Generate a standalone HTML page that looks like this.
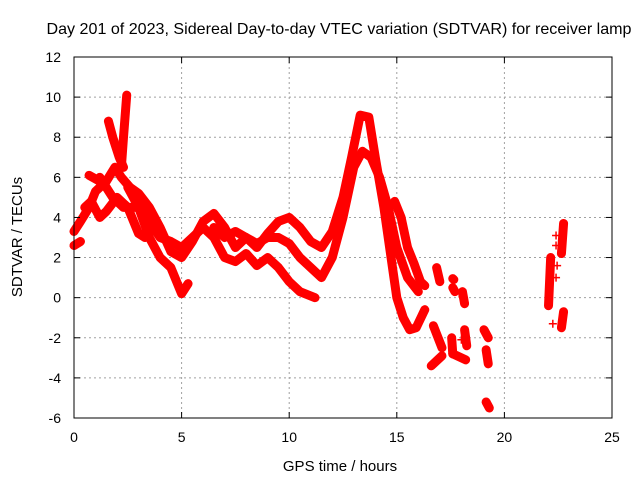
<!DOCTYPE html>
<html><head><meta charset="utf-8"><style>
body{margin:0;background:#fff;}
svg{display:block;font-family:"Liberation Sans",sans-serif;}
</style></head><body>
<svg id="chart" width="640" height="480" viewBox="0 0 640 480">
<text x="339" y="34" font-size="16" text-anchor="middle" textLength="585" lengthAdjust="spacingAndGlyphs">Day 201 of 2023, Sidereal Day-to-day VTEC variation (SDTVAR) for receiver lamp</text>
<text x="0" y="0" font-size="15" text-anchor="middle" transform="translate(22,237) rotate(-90)">SDTVAR / TECUs</text>
<text x="340" y="471" font-size="15" text-anchor="middle">GPS time / hours</text>
<g id="grid"></g><g id="marks"></g><g id="axes"></g>
</svg>
<script>
const xTicks=[0,5,10,15,20,25];
const yTicks=[-6,-4,-2,0,2,4,6,8,10,12];
const track1=[[0,3.3],[0.3,3.8],[0.7,4.5],[1,5.3],[1.5,5.8],[1.9,6.5],[2.2,6],[2.6,5.5],[3,5.2],[3.5,4.5],[4,3.5],[4.5,2.3],[5,2],[5.5,2.8],[6,3.8],[6.5,4.2],[7,3.5],[7.5,2.5],[8,3],[8.5,2.5],[9,3.2],[9.5,3.8],[10,4],[10.5,3.5],[11,2.8],[11.5,2.5],[12,3.3],[12.5,5],[12.9,7],[13.3,9.1],[13.7,9],[14,7],[14.4,4.5],[14.8,1.5],[15,0],[15.3,-1],[15.6,-1.6],[15.9,-1.5],[16.3,-0.6]];
const track2=[[0.5,4.5],[0.8,4.8],[1.2,4],[1.5,4.3],[2,5],[2.5,4.5],[3,3.2],[3.3,3]];
const track3=[[1.2,6],[1.8,5],[2.3,4.5],[3,4.5],[3.5,3],[4,2],[4.5,1.5],[5,0.2],[5.3,0.7]];
const track4=[[2.5,5.5],[3,4.5],[3.5,3.8],[4,3],[4.5,2.8],[5,2.5],[5.5,3],[6,3.5],[6.5,3],[7,2],[7.5,1.8],[8,2.2],[8.5,1.6],[9,2],[9.5,1.5],[10,0.8],[10.5,0.3],[11.2,0]];
const track5=[[6.5,3.5],[7,3],[7.5,3.3],[8,3],[8.5,2.7],[9,3],[9.5,3],[10,2.7],[10.5,2],[11,1.5],[11.5,1],[12,2],[12.5,4],[13,6.5],[13.4,7.3],[13.8,7],[14.2,6],[14.6,4.5],[15,2.5],[15.5,1],[16,0.3]];
const track6=[[14.9,4.8],[15.2,4],[15.5,2.5],[15.8,1.7],[16.1,0.8],[16.3,0.6]];
const spike1=[[1.6,8.8],[1.8,8],[2.1,7],[2.3,6.5]];
const spike2=[[2.2,6.5],[2.3,8],[2.45,10.1]];
const start1=[[0,2.6],[0.3,2.8]];
const start2=[[0.7,6.1],[1.2,5.8],[1.5,5.5]];
const frag1=[[16.85,1.5],[17.0,0.8]];
const frag2=[[17.6,0.95],[17.65,0.9]];
const frag3=[[17.6,0.5],[17.7,0.3]];
const frag4=[[18.05,0.3],[18.15,-0.3]];
const frag5=[[16.7,-1.4],[17.1,-2.5]];
const frag6=[[17.55,-2],[17.6,-2.8]];
const frag7=[[18.15,-1.6],[18.25,-2.4]];
const frag8=[[16.6,-3.4],[17.1,-2.9]];
const frag9=[[17.6,-2.8],[18.2,-3.1]];
const frag10=[[19.05,-1.6],[19.25,-2]];
const frag11=[[19.15,-2.6],[19.25,-3.3]];
const frag12=[[19.15,-5.2],[19.3,-5.5]];
const frag13=[[22.15,2],[22.05,-0.4]];
const frag14=[[22.75,3.7],[22.65,2.2]];
const frag15=[[22.75,-0.7],[22.65,-1.5]];
const singles=[[22.4,3.1],[22.4,2.6],[22.45,1.6],[22.4,1.0],[22.25,-1.3],[18.0,-2.1],[17.9,0.2]];
const allTracks=[track1,track2,track3,track4,track5,track6,spike1,spike2,start1,start2,frag1,frag2,frag3,frag4,frag5,frag6,frag7,frag8,frag9,frag10,frag11,frag12,frag13,frag14,frag15];
const L=74,R=612,T=57,B=418,X0=0,X1=25,Y0=-6,Y1=12;
const NS='http://www.w3.org/2000/svg';
const xs=h=>L+(h-X0)/(X1-X0)*(R-L);
const ys=v=>B-(v-Y0)/(Y1-Y0)*(B-T);
function mk(tag,attrs,parent){const e=document.createElementNS(NS,tag);for(const k in attrs)e.setAttribute(k,attrs[k]);parent.appendChild(e);return e;}
const grid=document.getElementById('grid'),marks=document.getElementById('marks'),axes=document.getElementById('axes');
xTicks.forEach(t=>{const x=xs(t);
 if(t>X0&&t<X1){const g=mk('line',{x1:x,x2:x,y1:T,y2:B,stroke:'#a0a0a0','stroke-dasharray':'2,3'},grid);
 
 }
 mk('line',{x1:x,x2:x,y1:B,y2:B-6,stroke:'#000'},axes);mk('line',{x1:x,x2:x,y1:T,y2:T+6,stroke:'#000'},axes);
 const tx=mk('text',{x:x,y:B+24,'font-size':14,'text-anchor':'middle'},axes);tx.textContent=t;
 
 });
yTicks.forEach(t=>{const y=ys(t);
 if(t>Y0&&t<Y1){const g=mk('line',{x1:L,x2:R,y1:y,y2:y,stroke:'#a0a0a0','stroke-dasharray':'2,3'},grid);
 
 }
 mk('line',{x1:L,x2:L+6,y1:y,y2:y,stroke:'#000'},axes);mk('line',{x1:R,x2:R-6,y1:y,y2:y,stroke:'#000'},axes);
 const tx=mk('text',{x:L-13,y:y+5,'font-size':14,'text-anchor':'end'},axes);tx.textContent=t;
 
 });
const fr=mk('rect',{x:L,y:T,width:R-L,height:B-T,fill:'none',stroke:'#000'},axes);


function plus(h,v){const x=xs(h),y=ys(v);const p=mk('path',{d:`M${x-4},${y}H${x+4}M${x},${y-4}V${y+4}`,stroke:'#f00','stroke-width':1.5,fill:'none'},marks);
 
 }
allTracks.forEach(tr=>{const pl=mk('polyline',{points:tr.map(p=>xs(p[0])+','+ys(p[1])).join(' '),fill:'none',stroke:'#f00','stroke-width':9,'stroke-linejoin':'round','stroke-linecap':'round'},marks);
 
 
 tr.forEach(p=>plus(p[0],p[1]));});
singles.forEach(p=>plus(p[0],p[1]));
</script>
</body></html>
